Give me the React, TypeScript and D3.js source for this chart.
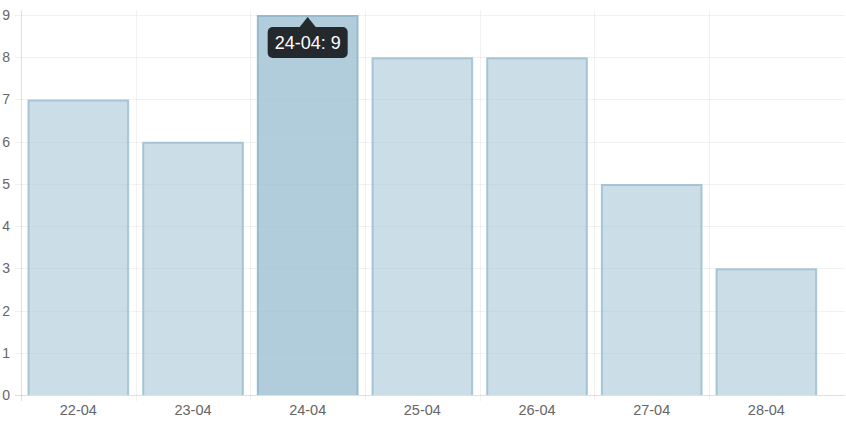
import React from "react";
import * as d3 from "d3";

const categories = ["22-04", "23-04", "24-04", "25-04", "26-04", "27-04", "28-04"];
const values = [7, 6, 9, 8, 8, 5, 3];
const yTicks = [0, 1, 2, 3, 4, 5, 6, 7, 8, 9];
const highlightIndex = 2;

const W = 846;
const H = 422;

export default function App() {
  const left = 21;
  const plotRight = 823.7;
  const axisRight = 845;
  const top = 15;
  const bottom = 395;

  const x = d3.scaleBand<string>().domain(categories).range([left, plotRight]).padding(0);
  const y = d3.scaleLinear().domain([0, 9]).range([bottom, top]);
  const bw = x.bandwidth();
  const inset = 7.5;

  const font = "Arial, 'Liberation Sans', Helvetica, sans-serif";

  const hc = categories[highlightIndex];
  const hx = (x(hc) as number) + bw / 2;
  const hy = y(values[highlightIndex]);
  const tipW = 80;
  const tipH = 31;
  const tipTop = hy + 12;

  return (
    <svg width={W} height={H} style={{ position: "absolute", left: 0, top: 0, display: "block", background: "#fff" }}>
      {/* horizontal grid */}
      {yTicks.map((t) => (
        <line
          key={"h" + t}
          x1={15}
          x2={axisRight}
          y1={Math.round(y(t)) + 0.5}
          y2={Math.round(y(t)) + 0.5}
          stroke={t === 0 ? "rgba(0,0,0,0.12)" : "rgba(0,0,0,0.05)"}
          strokeWidth={1}
        />
      ))}
      {/* vertical grid */}
      {categories.map((c, i) => (
        <line
          key={"v" + c}
          x1={Math.round(x(c) as number) + 0.5}
          x2={Math.round(x(c) as number) + 0.5}
          y1={10}
          y2={bottom + 6}
          stroke={i === 0 ? "rgba(0,0,0,0.12)" : "rgba(0,0,0,0.05)"}
          strokeWidth={1}
        />
      ))}
      {/* y labels */}
      {yTicks.map((t) => (
        <text
          key={"yl" + t}
          x={10}
          y={y(t) + 5}
          textAnchor="end"
          fontFamily={font}
          fontSize={14}
          fill="#666"
        >
          {t}
        </text>
      ))}
      {/* x labels */}
      {categories.map((c) => (
        <text
          key={"xl" + c}
          x={(x(c) as number) + bw / 2}
          y={415}
          textAnchor="middle"
          fontFamily={font}
          fontSize={14.5}
          fill="#666"
        >
          {c}
        </text>
      ))}
      {/* bars */}
      {values.map((v, i) => {
        const c = categories[i];
        const x0 = (x(c) as number) + inset;
        const x1 = (x(c) as number) + bw - inset;
        const yt = y(v) + 1;
        const hl = i === highlightIndex;
        return (
          <g key={"b" + c}>
            <rect
              x={x0}
              y={yt}
              width={x1 - x0}
              height={bottom - yt}
              fill={hl ? "rgba(151,187,205,0.75)" : "rgba(151,187,205,0.5)"}
            />
            <path
              d={`M${x0},${bottom} L${x0},${yt} L${x1},${yt} L${x1},${bottom}`}
              fill="none"
              stroke={hl ? "rgba(151,187,205,1)" : "rgba(151,187,205,0.8)"}
              strokeWidth={2}
            />
          </g>
        );
      })}
      {/* tooltip */}
      <g>
        <path
          d={`M${hx},${hy + 2} L${hx - 8},${tipTop} L${hx + 8},${tipTop} Z`}
          fill="rgba(0,0,0,0.8)"
        />
        <rect
          x={hx - tipW / 2}
          y={tipTop}
          width={tipW}
          height={tipH}
          rx={5}
          ry={5}
          fill="rgba(0,0,0,0.8)"
        />
        <text
          x={hx}
          y={tipTop + tipH / 2 + 6.5}
          textAnchor="middle"
          fontFamily={font}
          fontSize={18}
          fill="#fff"
        >
          {`${hc}: ${values[highlightIndex]}`}
        </text>
      </g>
    </svg>
  );
}
